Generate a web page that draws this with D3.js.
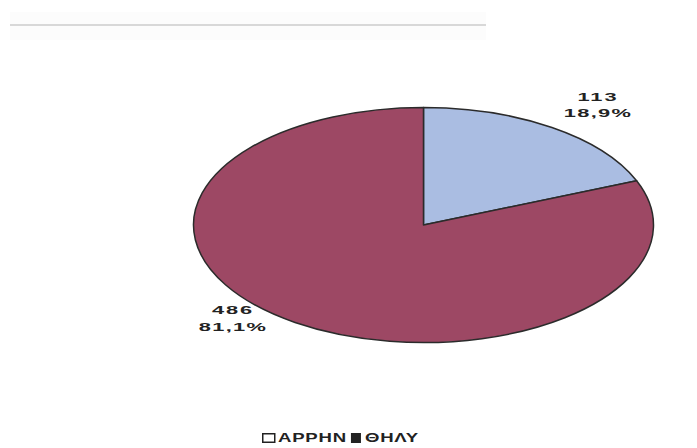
<!DOCTYPE html>
<html>
<head>
<meta charset="utf-8">
<script src="https://cdn.jsdelivr.net/npm/d3@7"></script>
<style>
  html, body { margin: 0; padding: 0; background: #fff; }
  svg { display: block; }
  text { font-family: "Liberation Sans", Arial, sans-serif; font-weight: bold; fill: #222; }
</style>
</head>
<body>
<svg id="chart" width="697" height="448"></svg>
<script>
// Series: counts by sex
const categories = ["ΑΡΡΗΝ", "ΘΗΛΥ"];
const values = [113, 486];
const percentLabels = ["18,9%", "81,1%"];
const colors = ["#aabde2", "#9d4864"];
const markerStyles = ["hollow", "filled"];

const svg = d3.select("#chart");

// faint rule across the top
const topBand = svg.append("g");
topBand.append("rect").attr("x", 10).attr("y", 12).attr("width", 476).attr("height", 28).attr("fill", "#fcfcfc");
topBand.append("line").attr("x1", 10).attr("x2", 486).attr("y1", 25).attr("y2", 25)
  .attr("stroke", "#cdcdcd").attr("stroke-width", 1.5);

// Pie drawn as a circle then flattened into an ellipse
const cx = 423.5, cy = 225, rx = 230, ry = 117.5;
const pie = d3.pie().sort(null).value(d => d)(values);
const arc = d3.arc().innerRadius(0).outerRadius(rx);

const pieG = svg.append("g").attr("transform", `translate(${cx},${cy}) scale(1,${ry / rx})`);
pieG.selectAll("path")
  .data(pie)
  .join("path")
  .attr("d", arc)
  .attr("fill", (d, i) => colors[i])
  .attr("stroke", "#2b2b2b")
  .attr("stroke-width", 1.5)
  .attr("vector-effect", "non-scaling-stroke")
  .attr("stroke-linejoin", "round");

// Value / percent labels: placed off the rim point at each slice's mid-angle
const labelShift = [[46, -24], [-62, -5]];
const labels = svg.append("g");
pie.forEach((d, i) => {
  const mid = (d.startAngle + d.endAngle) / 2;
  const ex = cx + rx * Math.sin(mid);
  const ey = cy - ry * Math.cos(mid);
  const g = labels.append("g")
    .attr("transform", `translate(${ex + labelShift[i][0]},${ey + labelShift[i][1]}) scale(1.9,1)`);
  g.append("text").attr("text-anchor", "middle").attr("y", -3).attr("font-size", 11.5)
    .attr("letter-spacing", 1).text(values[i]);
  g.append("text").attr("text-anchor", "middle").attr("y", 13.5).attr("font-size", 11.5)
    .attr("letter-spacing", 0.7).text(percentLabels[i]);
});

// Legend along the bottom
const legend = svg.append("g").attr("transform", "translate(262,442)");
let xoff = 0;
categories.forEach((c, i) => {
  const item = legend.append("g").attr("transform", `translate(${xoff},0)`);
  if (markerStyles[i] === "hollow") {
    item.append("rect").attr("x", 0.75).attr("y", -8.25).attr("width", 12).attr("height", 8.5)
      .attr("fill", "#fff").attr("stroke", "#222").attr("stroke-width", 1.5);
  } else {
    item.append("rect").attr("x", 0).attr("y", -9).attr("width", 10).attr("height", 10)
      .attr("fill", "#222");
  }
  const mw = markerStyles[i] === "hollow" ? 16 : 14;
  const t = item.append("g").attr("transform", `translate(${mw},0) scale(1.55,1)`);
  const tx = t.append("text").attr("font-size", 12).attr("letter-spacing", 0.5).text(c);
  const w = tx.node().getComputedTextLength() * 1.55 + mw;
  xoff += w + 4;
});
</script>
</body>
</html>
